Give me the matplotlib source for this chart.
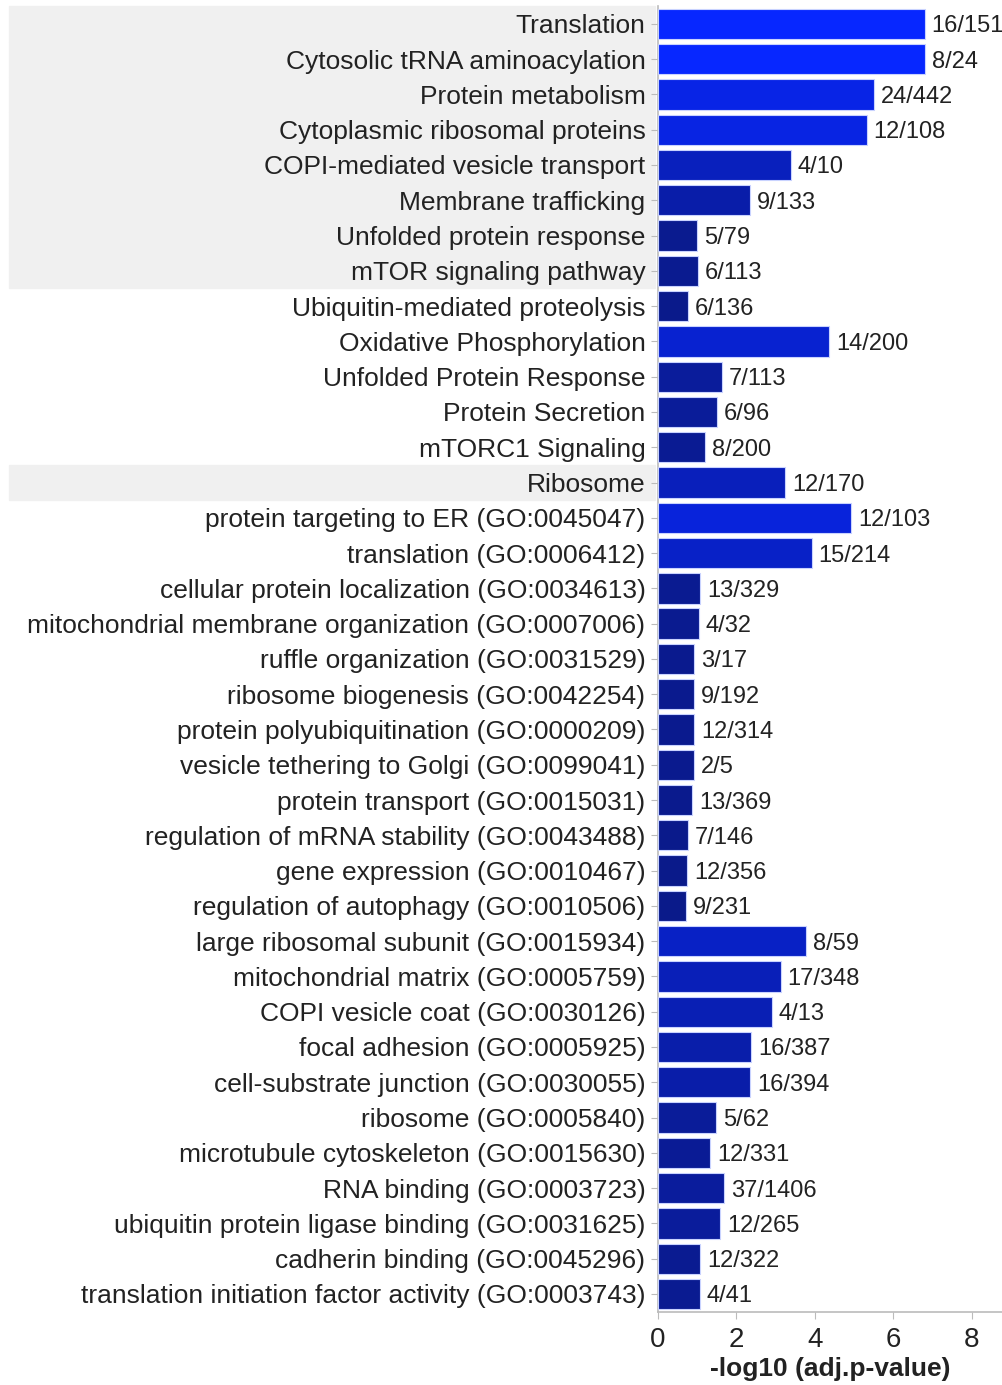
import matplotlib
matplotlib.use("Agg")
import numpy as np
from matplotlib import pyplot as plt
from matplotlib.colors import LinearSegmentedColormap, Normalize

terms = [
    "Translation",
    "Cytosolic tRNA aminoacylation",
    "Protein metabolism",
    "Cytoplasmic ribosomal proteins",
    "COPI-mediated vesicle transport",
    "Membrane trafficking",
    "Unfolded protein response",
    "mTOR signaling pathway",
    "Ubiquitin-mediated proteolysis",
    "Oxidative Phosphorylation",
    "Unfolded Protein Response",
    "Protein Secretion",
    "mTORC1 Signaling",
    "Ribosome",
    "protein targeting to ER (GO:0045047)",
    "translation (GO:0006412)",
    "cellular protein localization (GO:0034613)",
    "mitochondrial membrane organization (GO:0007006)",
    "ruffle organization (GO:0031529)",
    "ribosome biogenesis (GO:0042254)",
    "protein polyubiquitination (GO:0000209)",
    "vesicle tethering to Golgi (GO:0099041)",
    "protein transport (GO:0015031)",
    "regulation of mRNA stability (GO:0043488)",
    "gene expression (GO:0010467)",
    "regulation of autophagy (GO:0010506)",
    "large ribosomal subunit (GO:0015934)",
    "mitochondrial matrix (GO:0005759)",
    "COPI vesicle coat (GO:0030126)",
    "focal adhesion (GO:0005925)",
    "cell-substrate junction (GO:0030055)",
    "ribosome (GO:0005840)",
    "microtubule cytoskeleton (GO:0015630)",
    "RNA binding (GO:0003723)",
    "ubiquitin protein ligase binding (GO:0031625)",
    "cadherin binding (GO:0045296)",
    "translation initiation factor activity (GO:0003743)",
]

neg_log_p = [
    6.80, 6.80, 5.50, 5.32, 3.39, 2.34, 0.99, 1.02, 0.76,
    4.36, 1.63, 1.50, 1.20, 3.24,
    4.92, 3.92, 1.07, 1.04, 0.92, 0.92, 0.92, 0.92, 0.87, 0.76, 0.74, 0.71,
    3.77, 3.13, 2.90, 2.37, 2.34, 1.48, 1.32, 1.68, 1.58, 1.07, 1.07,
]

overlap = [
    "16/151", "8/24", "24/442", "12/108", "4/10", "9/133", "5/79", "6/113",
    "6/136", "14/200", "7/113", "6/96", "8/200", "12/170",
    "12/103", "15/214", "13/329", "4/32", "3/17", "9/192", "12/314", "2/5",
    "13/369", "7/146", "12/356", "9/231",
    "8/59", "17/348", "4/13", "16/387", "16/394", "5/62", "12/331",
    "37/1406", "12/265", "12/322", "4/41",
]

# rows that get the grey background band
shaded_rows = [0, 1, 2, 3, 4, 5, 6, 7, 13]

plt.rcParams["font.family"] = ["Liberation Sans", "DejaVu Sans"]

fig = plt.figure(figsize=(10.03, 13.85), dpi=100)
ax = fig.add_axes([0.656, 0.053, 0.344, 0.9425])

values = np.array(neg_log_p)
y = np.arange(len(terms))

cmap = LinearSegmentedColormap.from_list("blues", ["#0a1a8a", "#0727ff"])
norm = Normalize(vmin=values.min(), vmax=values.max())
colors = cmap(norm(values))

ax.barh(y, values, height=0.86, color=colors, edgecolor="#c9d3ff",
        linewidth=0.8, zorder=3)

for yi, v, txt in zip(y, values, overlap):
    ax.text(v + 0.18, yi, txt, va="center_baseline", ha="left", fontsize=17,
            color="#222222", zorder=4)

# grey bands behind the label column
for r in shaded_rows:
    ax.axhspan(r - 0.5, r + 0.5, xmin=-1.88, xmax=-0.01,
               color="#f0f0f0", clip_on=False, zorder=0)

ax.set_ylim(len(terms) - 0.5, -0.5)
ax.set_xlim(0, 8.8)
ax.set_yticks(y)
ax.set_yticklabels(terms, fontsize=19, color="#222222")
ax.set_xticks([0, 2, 4, 6, 8])
ax.tick_params(axis="x", labelsize=20, colors="#222222", length=5,
               color="#bbbbbb", pad=6)
ax.tick_params(axis="y", length=5, color="#bbbbbb", pad=4)
ax.set_xlabel("-log10 (adj.p-value)", fontsize=19, fontweight="bold",
              color="#222222", labelpad=3)

for side in ["top", "right"]:
    ax.spines[side].set_visible(False)
for side in ["left", "bottom"]:
    ax.spines[side].set_color("#bbbbbb")
    ax.spines[side].set_linewidth(1.2)

fig.savefig("out.png", dpi=100, facecolor="white")
